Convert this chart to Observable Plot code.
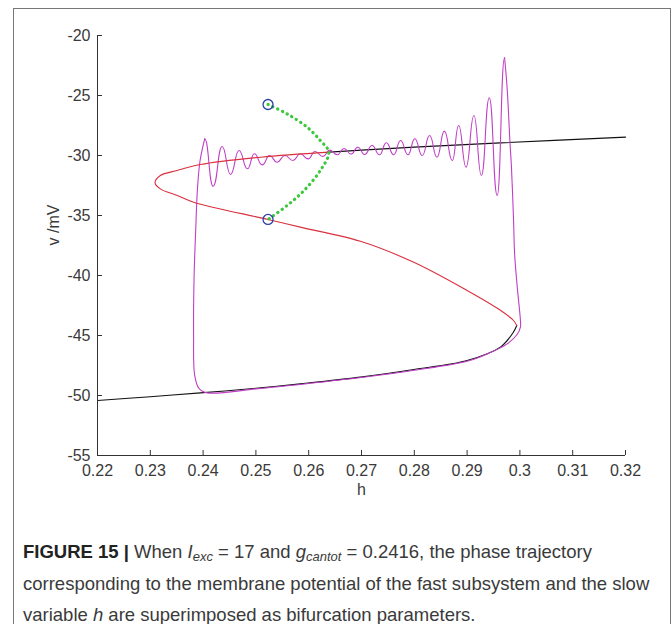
<!DOCTYPE html>
<html><head><meta charset="utf-8">
<script src="https://cdn.jsdelivr.net/npm/d3@7"></script>
<script src="https://cdn.jsdelivr.net/npm/@observablehq/plot@0.6"></script>
<style>
body{margin:0;background:#fff;width:672px;height:624px;position:relative;overflow:hidden;font-family:"Liberation Sans",Arial,sans-serif}
#frame{position:absolute;left:13px;top:8px;width:658px;height:660px;border:1.5px solid #777;box-sizing:border-box;pointer-events:none}
#chart{position:absolute;left:0;top:0}
#caption{position:absolute;left:23px;top:536px;font-size:18.5px;line-height:31.5px;color:#3a3a3a;white-space:nowrap}
#caption b{color:#222}
#caption sub{font-size:13px;vertical-align:-3px;line-height:0}
</style></head><body>
<div id="chart"></div>
<div id="caption"><span id="l1"><b>FIGURE 15 |</b> When <i>I<sub>exc</sub></i> = 17 and <i>g<sub>cantot</sub></i> = 0.2416, the phase trajectory</span><br><span id="l2">corresponding to the membrane potential of the fast subsystem and the slow</span><br><span id="l3">variable <i>h</i> are superimposed as bifurcation parameters.</span></div>
<div id="frame"></div>
<script>
// tick values
const xTicks = [0.22, 0.23, 0.24, 0.25, 0.26, 0.27, 0.28, 0.29, 0.3, 0.31, 0.32];
const yTicks = [-55, -50, -45, -40, -35, -30, -25, -20];

// equilibrium curve of the fast subsystem: stable lower branch (black)
const lowerStable = [[0.2200,-50.42],[0.2300,-50.10],[0.2395,-49.78],[0.2500,-49.40],[0.2584,-49.03],[0.2698,-48.47],[0.2799,-47.83],[0.2900,-47.08],[0.2963,-45.97],[0.2988,-44.70],[0.2994,-44.17]];
// unstable part (red): right fold -> middle branch -> left fold -> upper branch up to Hopf
const unstable = [[0.2994,-44.17],[0.2988,-43.75],[0.2963,-42.90],[0.2900,-41.25],[0.2799,-38.90],[0.2698,-37.15],[0.2584,-35.97],[0.2523,-35.33],[0.2382,-33.89],[0.2351,-33.33],[0.2319,-32.78],[0.2309,-32.28],[0.2319,-31.67],[0.2351,-31.25],[0.2395,-30.75],[0.2509,-30.14],[0.2638,-29.72]];
// stable upper branch (black) from Hopf to the right
const upperStable = [[0.2638,-29.72],[0.2700,-29.55],[0.2800,-29.30],[0.2963,-28.95],[0.3200,-28.47]];
// periodic-orbit branch (green): max then min of the limit cycle
const cycleBranch = [[0.2523,-25.75],[0.2559,-26.53],[0.2597,-27.64],[0.2622,-28.75],[0.2638,-29.72],[0.2622,-31.25],[0.2591,-32.92],[0.2559,-34.17],[0.2523,-35.33]];
// end points (blue circles)
const cycleEnds = [[0.2523,-25.75],[0.2523,-35.33]];
// trajectory (magenta): oscillation extrema, from right to left
const spiralExtrema = [[0.2971,-21.86],[0.2957,-33.33],[0.2942,-25.19],[0.2927,-31.67],[0.2913,-26.67],[0.2898,-30.97],[0.2884,-27.50],[0.2872,-30.42],[0.2857,-27.97],[0.2843,-30.14],[0.2829,-28.33],[0.2815,-30.00],[0.2801,-28.61],[0.2788,-29.94],[0.2774,-28.75],[0.2761,-29.94],[0.2747,-28.94],[0.2734,-29.94],[0.2720,-29.17],[0.2706,-29.92],[0.2693,-29.31],[0.2680,-29.88],[0.2667,-29.42],[0.2654,-29.94],[0.2640,-29.55],[0.2627,-30.08],[0.2612,-29.67],[0.2599,-30.28],[0.2584,-29.86],[0.2570,-30.42],[0.2555,-30.00],[0.2540,-30.56],[0.2526,-30.00],[0.2512,-30.78],[0.2497,-29.86],[0.2484,-31.11],[0.2468,-29.58],[0.2452,-31.58],[0.2436,-29.25],[0.2419,-32.56],[0.2403,-28.61]];
// trajectory (magenta): jump down, slow drift along lower branch, jump up
const relaxation = [[0.2403,-28.61],[0.2394,-30.50],[0.2389,-33.00],[0.2386,-36.25],[0.2383,-40.00],[0.2382,-45.00],[0.2384,-48.30],[0.2392,-49.40],[0.2408,-49.78],[0.2500,-49.45],[0.2600,-49.00],[0.2700,-48.50],[0.2800,-47.90],[0.2900,-47.15],[0.2940,-46.50],[0.2976,-45.70],[0.2995,-44.90],[0.3001,-44.31],[0.3001,-43.75],[0.2995,-40.97],[0.2990,-38.20],[0.2988,-35.42],[0.2984,-30.97],[0.2981,-28.75],[0.2976,-24.50],[0.2971,-21.86]];

const X = d => d[0], Y = d => d[1];
const magenta = "#c03ec6";
const axisColor = "#333";

const chart = Plot.plot({
  width: 672, height: 510,
  marginLeft: 97, marginRight: 47, marginTop: 35, marginBottom: 55,
  style: {fontFamily: "'Liberation Sans', Arial, sans-serif", fontSize: "16px", color: "#3a3a3a", background: "transparent", overflow: "visible"},
  x: {domain: [0.22, 0.32]},
  y: {domain: [-55, -20]},
  marks: [
    Plot.line(lowerStable, {x: X, y: Y, stroke: "#111", strokeWidth: 1.1, curve: "catmull-rom"}),
    Plot.line(upperStable, {x: X, y: Y, stroke: "#111", strokeWidth: 1.1, curve: "catmull-rom"}),
    Plot.line(relaxation, {x: X, y: Y, stroke: magenta, strokeWidth: 1.1, curve: "catmull-rom"}),
    Plot.line(spiralExtrema, {x: X, y: Y, stroke: magenta, strokeWidth: 1.1, curve: "bump-x"}),
    Plot.line(unstable, {x: X, y: Y, stroke: "#d9303e", strokeWidth: 1.1, curve: "catmull-rom"}),
    Plot.line(cycleBranch, {x: X, y: Y, stroke: "#3ec83e", strokeWidth: 3.2, strokeDasharray: "0.3 5", strokeLinecap: "round", curve: "catmull-rom"}),
    Plot.dot(cycleEnds, {x: X, y: Y, r: 5, stroke: "#2d3ea6", strokeWidth: 1.3, fill: "none"}),
    Plot.ruleX([0.22], {stroke: axisColor}),
    Plot.ruleY([-55], {stroke: axisColor}),
    Plot.tickY(yTicks, {y: d => d, insetRight: 523, stroke: axisColor}),
    Plot.tickX(xTicks, {x: d => d, insetTop: 415, stroke: axisColor}),
    Plot.axisY(yTicks, {tickSize: 0, tickPadding: 7, label: null, tickFormat: d => String(d)}),
    Plot.axisX(xTicks, {tickSize: 0, tickPadding: 9, label: null, tickFormat: d => String(d)}),
    Plot.text(["h"], {frameAnchor: "bottom", dy: 39, text: d => d, fontSize: 16}),
    Plot.text(["v /mV"], {frameAnchor: "left", dx: -44, rotate: -90, text: d => d, fontSize: 16})
  ]
});
document.getElementById("chart").append(chart);
</script>
</body></html>
